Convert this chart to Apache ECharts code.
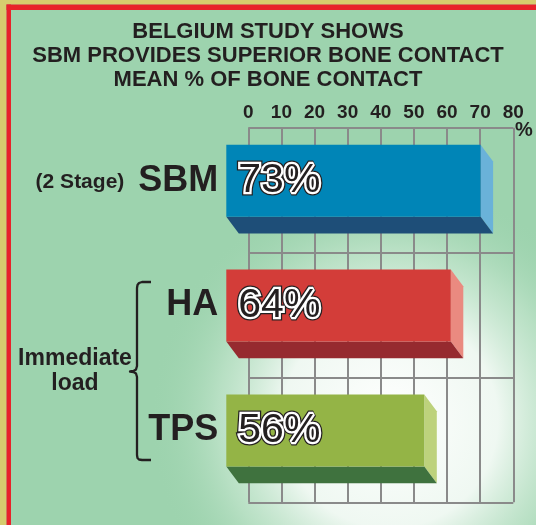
<!DOCTYPE html>
<html>
<head>
<meta charset="utf-8">
<script src="https://cdn.jsdelivr.net/npm/echarts@6/dist/echarts.min.js"></script>
<style>
  html, body { margin: 0; padding: 0; background: #9dd3ae; }
  #chart { width: 536px; height: 525px; }
</style>
</head>
<body>
<div id="chart"></div>
<script>
// ---- data ----
var categories = ['SBM', 'HA', 'TPS'];
var subLabels = ['(2 Stage)', '', ''];
var boneContact = [73, 64, 56];           // mean % of bone contact
var titleLines = ['BELGIUM STUDY SHOWS', 'SBM PROVIDES SUPERIOR BONE CONTACT', 'MEAN % OF BONE CONTACT'];
var groupLabel = ['Immediate', 'load'];

// ---- styles ----
var FONT = '"Liberation Sans", Arial, Helvetica, sans-serif';
var INK = '#231f20';
var GRID_LINE = '#8a8a8a';
var faces = [
  { front: '#0085b7', bottom: '#1e4e78', side: '#6ab2d9' },
  { front: '#d33d39', bottom: '#962a2f', side: '#ea8a80' },
  { front: '#94b446', bottom: '#3f723e', side: '#bdd27c' }
];
var DEPTH_X = 12.5, DEPTH_Y = 16.7, FRONT_H = 72;

// curly brace grouping HA + TPS
var bracePts = [
  [151, 282], [142, 282], [139, 283], [137.5, 285], [137, 288], [137, 366],
  [136, 369.5], [133.5, 371], [130, 371.5], [133.5, 372], [136, 373.5], [137, 377],
  [137, 455], [137.5, 458], [139, 459.5], [142, 460], [151, 460]
];

// value label = black glyph, white halo, thin black rim (stroke is painted under the fill)
function outlinedText(text, x, y, stroke, width) {
  return { type: 'text', style: { text: text, x: x, y: y, align: 'left', verticalAlign: 'middle',
    font: '41px ' + FONT, fill: INK, stroke: stroke, lineWidth: width } };
}

function renderBar(params, api) {
  var i = params.dataIndex;
  var cat = api.value(1);
  var base = api.coord([0, cat]);
  var end = api.coord([api.value(0), cat]);
  var band = api.size([0, 1])[1];
  var c = faces[i % faces.length];

  var fl = base[0] - 22;              // front face left
  var br = end[0] + 3;                // back (side) right edge
  var fr = br - DEPTH_X;              // front face right
  var ft = base[1] - band / 2 + 17;   // front face top
  var fb = ft + FRONT_H;
  var fcy = ft + FRONT_H / 2;

  var valueText = api.value(0) + '%';
  var label = subLabels[i]
    ? '{s|' + subLabels[i] + '}{b|' + categories[i] + '}'
    : '{b|' + categories[i] + '}';

  return {
    type: 'group',
    children: [
      { type: 'polygon', shape: { points: [[fr, ft], [fr + DEPTH_X, ft + DEPTH_Y], [fr + DEPTH_X, fb + DEPTH_Y], [fr, fb]] },
        style: { fill: c.side } },
      { type: 'polygon', shape: { points: [[fl, fb], [fr, fb], [fr + DEPTH_X, fb + DEPTH_Y], [fl + DEPTH_X, fb + DEPTH_Y]] },
        style: { fill: c.bottom } },
      { type: 'rect', shape: { x: fl, y: ft, width: fr - fl, height: FRONT_H },
        style: { fill: c.front } },
      outlinedText(valueText, fl + 12, fcy, INK, 7),
      outlinedText(valueText, fl + 12, fcy, '#ffffff', 4.5),
      { type: 'text', style: { text: label, x: fl - 8, y: fcy, align: 'right', verticalAlign: 'middle',
          rich: {
            s: { fontSize: 21, fontWeight: 'bold', fontFamily: FONT, fill: INK, padding: [3, 14, 0, 0] },
            b: { fontSize: 36, fontWeight: 'bold', fontFamily: FONT, fill: INK }
          } } }
    ]
  };
}

var chart = echarts.init(document.getElementById('chart'));
chart.setOption({
  backgroundColor: '#9dd3ae',
  animation: false,
  title: {
    text: titleLines.join('\n'),
    left: 'center', top: 20, padding: 0,
    textStyle: { fontFamily: FONT, fontSize: 22, fontWeight: 'bold', color: INK, lineHeight: 24 }
  },
  grid: { left: 248.3, right: 22.7, top: 127.7, bottom: 22.7 },
  xAxis: {
    type: 'value', position: 'top', min: 0, max: 80, interval: 10,
    axisLine: { show: false }, axisTick: { show: false },
    axisLabel: { color: INK, fontFamily: FONT, fontSize: 19, fontWeight: 'bold', margin: 5 },
    splitLine: { show: true, lineStyle: { color: GRID_LINE, width: 2 } }
  },
  yAxis: {
    type: 'category', data: categories, inverse: true,
    axisLine: { show: false }, axisTick: { show: false }, axisLabel: { show: false },
    splitLine: { show: true, lineStyle: { color: GRID_LINE, width: 2 } }
  },
  series: [{
    type: 'custom',
    renderItem: renderBar,
    encode: { x: 0, y: 1 },
    data: boneContact.map(function (v, i) { return [v, i]; }),
    clip: false
  }],
  graphic: [
    { type: 'circle', z: -1, silent: true, shape: { cx: 390, cy: 420, r: 240 },
      style: { fill: { type: 'radial', x: 0.5, y: 0.5, r: 0.5, colorStops: [
        { offset: 0, color: 'rgba(255,255,255,1)' },
        { offset: 0.45, color: 'rgba(248,252,249,0.9)' },
        { offset: 0.72, color: 'rgba(205,234,213,0.55)' },
        { offset: 1, color: 'rgba(157,211,174,0)' }
      ] } } },
    { type: 'rect', z: 100, shape: { x: 0, y: 0, width: 536, height: 4.5 }, style: { fill: '#d6cc6e' } },
    { type: 'rect', z: 100, shape: { x: 0, y: 0, width: 6.5, height: 525 }, style: { fill: '#d6cc6e' } },
    { type: 'rect', z: 101, shape: { x: 6.5, y: 4.5, width: 530, height: 5.5 }, style: { fill: '#e8222a' } },
    { type: 'rect', z: 101, shape: { x: 6.5, y: 4.5, width: 4.5, height: 521 }, style: { fill: '#e8222a' } },
    { type: 'text', z: 100, style: { text: '%', x: 524, y: 130, align: 'center', verticalAlign: 'middle',
        font: 'bold 20px ' + FONT, fill: INK } },
    { type: 'text', z: 100, style: { text: groupLabel.join('\n'), x: 75, y: 371, align: 'center', verticalAlign: 'middle',
        font: 'bold 23px ' + FONT, lineHeight: 25, fill: INK } },
    { type: 'polyline', z: 100, shape: { points: bracePts },
      style: { fill: 'none', stroke: INK, lineWidth: 2.3, lineJoin: 'round' } }
  ]
});
</script>
</body>
</html>
